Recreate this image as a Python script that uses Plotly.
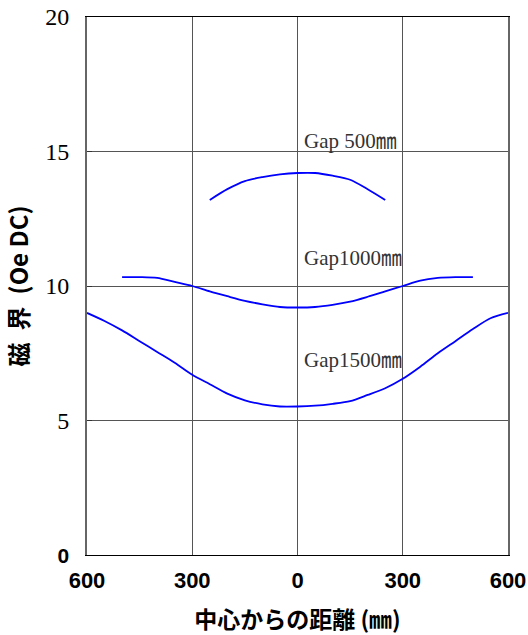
import plotly.graph_objects as go

x500 = [-250, -200, -150, -100, -50, 0, 50, 100, 150, 200, 250]
y500 = [13.2, 13.6, 13.9, 14.05, 14.15, 14.2, 14.2, 14.1, 13.95, 13.6, 13.2]

x1000 = [-500, -450, -400, -350, -300, -250, -200, -150, -100, -50, 0, 50, 100, 150, 200, 250, 300, 350, 400, 450, 500]
y1000 = [10.33, 10.33, 10.3, 10.15, 10.0, 9.8, 9.62, 9.45, 9.32, 9.22, 9.2, 9.22, 9.3, 9.42, 9.6, 9.8, 10.0, 10.2, 10.3, 10.33, 10.33]

x1500 = [-600, -550, -500, -450, -400, -350, -300, -250, -200, -150, -100, -50, 0, 50, 100, 150, 200, 250, 300, 350, 400, 450, 500, 550, 600]
y1500 = [9.0, 8.7, 8.35, 7.95, 7.55, 7.15, 6.7, 6.35, 6.0, 5.75, 5.6, 5.52, 5.52, 5.55, 5.62, 5.72, 5.95, 6.2, 6.55, 7.0, 7.5, 7.95, 8.4, 8.8, 9.0]

xtick_vals = [-600, -300, 0, 300, 600]
xtick_text = ["600", "300", "0", "300", "600"]
ytick_vals = [0, 5, 10, 15, 20]
ytick_text = ['<span style="font-family:Liberation Sans;font-weight:bold;font-size:21px">0</span>', "5", "10", "15", "20"]

labels = ["Gap 500㎜", "Gap1000㎜", "Gap1500㎜"]
label_y = [15.4, 11.05, 7.25]

fig = go.Figure()
for xs, ys in [(x500, y500), (x1000, y1000), (x1500, y1500)]:
    fig.add_trace(go.Scatter(x=xs, y=ys, mode="lines", line=dict(color="#0000FF", width=1.8, shape="spline", smoothing=0.8),
                             showlegend=False, hoverinfo="skip"))

for t, yy in zip(labels, label_y):
    fig.add_annotation(x=13, y=yy, text=t, showarrow=False, xanchor="left", yanchor="middle",
                       font=dict(family="Liberation Serif, Noto Sans CJK JP", size=21, color="#333333"))

fig.update_layout(
    width=528, height=635,
    margin=dict(l=87, r=20, t=17, b=80),
    plot_bgcolor="white", paper_bgcolor="white",
    xaxis=dict(range=[-600, 600], tickvals=xtick_vals, ticktext=xtick_text,
               tickfont=dict(family="Liberation Sans", size=22, color="black", weight="bold"),
               showgrid=True, gridcolor="#555555", gridwidth=1,
               showline=True, linecolor="black", linewidth=1, mirror=True,
               ticks="", zeroline=False, automargin=False, ticklabelstandoff=6,
               title=dict(text="中心からの距離 (㎜)", standoff=24,
                          font=dict(family="Noto Sans CJK JP", size=23, color="black", weight="bold"))),
    yaxis=dict(range=[0, 20], tickvals=ytick_vals, ticktext=ytick_text,
               tickfont=dict(family="Liberation Serif", size=24, color="black"),
               showgrid=True, gridcolor="#555555", gridwidth=1,
               showline=True, linecolor="#666666", linewidth=2, mirror=True,
               ticks="inside", ticklen=5, tickcolor="#333333", zeroline=False,
               automargin=False, ticklabelstandoff=11,
               title=dict(text="磁\u2002界\u2002(Oe DC)", standoff=14,
                          font=dict(family="Noto Sans CJK JP", size=24, color="black", weight="bold"))),
)

fig.write_html("out.html", config={"displayModeBar": False},
               post_script="document.body.style.margin='0';document.body.style.overflow='hidden';")
